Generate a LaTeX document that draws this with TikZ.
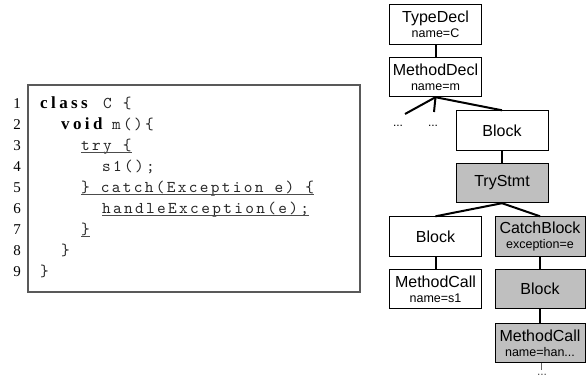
\documentclass[tikz,border=0pt]{standalone}
\usepackage{fontspec}
\setsansfont{Liberation Sans}
\newfontfamily\numfont{Liberation Serif}
\newfontfamily\kwfont{Liberation Serif}[LetterSpace=20]
\newfontfamily\codefont{lmmono10-regular.otf}[LetterSpace=14.2]
\newcommand\attr[1]{\\[-3pt]{\fontsize{12.5}{14}\selectfont #1}}
\tikzset{
    astnode/.style={draw, line width=0.9pt, minimum width=92pt, minimum height=39.5pt,
        inner sep=1pt, align=center, font=\sffamily\fontsize{16}{18}\selectfont},
    astgrey/.style={astnode, fill=black!25},
    link/.style={line width=2pt},
    dots/.style={inner sep=0pt, font=\sffamily\fontsize{12}{14}\selectfont},
    lineno/.style={anchor=base east, inner sep=0pt, font=\numfont\fontsize{15}{15}\selectfont},
    keyword/.style={anchor=base west, inner sep=0pt, font=\kwfont\bfseries\fontsize{17}{17}\selectfont},
    codeline/.style={anchor=base west, inner sep=0pt, text=black!85,
        font=\codefont\fontsize{16.5}{16.5}\selectfont},
    uline/.style={line width=0.8pt, black!70},
}

\begin{document}
\begin{tikzpicture}[x=1pt,y=-1pt]
    \useasboundingbox (0,0) rectangle (586,381);
    % source code
    \draw[line width=1.5pt, black!65] (28,85) rectangle (360,292);
    \foreach \i in {1,...,9}
        \node[lineno] (n\i) at (21,{87+21*\i}) {\i};
    \node[keyword] (k1) at (40,108) {class};
    \node[codeline] (c1) at (103,108) {C \{};
    \node[keyword] (k2) at (61,129) {void};
    \node[codeline] (c2) at (112,129) {m()\{};
    \node[codeline] (c3) at (81,150) {try \{};
    \node[codeline] (c4) at (102,171) {s1();};
    \node[codeline] (c5) at (81,192) {\} catch(Exception e) \{};
    \node[codeline] (c6) at (102,213) {handleException(e);};
    \node[codeline] (c7) at (81,234) {\}};
    \node[codeline] (c8) at (61,255) {\}};
    \node[codeline] (c9) at (40,276) {\}};
    \foreach \l in {c3,c5,c6,c7}
        \draw[uline] ([yshift=-2pt]\l.base west) -- ([yshift=-2pt]\l.base east);

    % AST
    \node[astnode] (type) at (435.5,24.5) {TypeDecl\attr{name=C}};
    \node[astnode] (mdecl) at (435.5,77) {MethodDecl\attr{name=m}};
    \node[astnode] (body) at (502,130.5) {Block};
    \node[astgrey] (try) at (502,183) {TryStmt};
    \node[astnode] (tblock) at (435.5,236.5) {Block};
    \node[astnode] (call1) at (435.5,289) {MethodCall\attr{name=s1}};
    \node[astgrey, minimum width=90pt] (catch) at (540,236.5) {CatchBlock\attr{exception=e}};
    \node[astgrey, minimum width=90pt] (cblock) at (540,289) {Block};
    \node[astgrey, minimum width=90pt] (call2) at (540,343) {MethodCall\attr{name=han...}};
    \node[dots] (dl) at (398,126) {...};
    \node[dots] (dm) at (433,126) {...};
    \node[dots, text=black!70] (dr) at (542,375) {...};
    \coordinate (e1) at (405,114);
    \coordinate (e2) at (434,112);
    \coordinate (tail) at (541.5,370);

    \draw[link] (type) -- (mdecl);
    \draw[link] (mdecl.south) -- (e1);
    \draw[link] (mdecl.south) -- (e2);
    \draw[link] (mdecl.south) -- (body.north);
    \draw[link] (body) -- (try);
    \draw[link] (try.south) -- (tblock.north);
    \draw[link] (try.south) -- (catch.north);
    \draw[link] (tblock) -- (call1);
    \draw[link] (catch) -- (cblock);
    \draw[link] (cblock) -- (call2);
    \draw[line width=0.8pt, black!60] (call2.south -| tail) -- (tail);
\end{tikzpicture}
\end{document}
